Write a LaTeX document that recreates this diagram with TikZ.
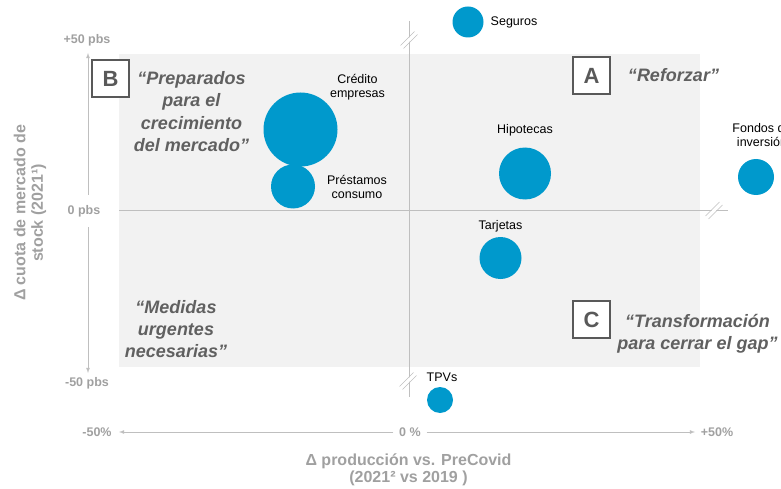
\documentclass[tikz,border=0pt]{standalone}
\usepackage{fontspec}
\setmainfont{Liberation Sans}
\usepackage{tikz}
\usetikzlibrary{positioning}
\definecolor{bubble}{HTML}{0099CC}
\definecolor{panel}{HTML}{F2F2F2}
\definecolor{axisgray}{HTML}{BFBFBF}
\definecolor{tickgray}{HTML}{A0A0A0}
\definecolor{quotegray}{HTML}{606060}
\definecolor{boxgray}{HTML}{595959}

\begin{document}
\begin{tikzpicture}[x=1pt,y=-1pt,on grid,>=latex,
    bub/.style={circle,fill=bubble,inner sep=0pt,minimum size=#1},
    lbl/.style={font=\fontsize{12.5}{14}\selectfont,align=center,inner sep=0pt},
    quote/.style={font=\fontsize{18}{22.3}\selectfont\bfseries\itshape,text=quotegray,align=center,inner sep=0pt},
    letter/.style={draw=boxgray,line width=1.6pt,fill=white,minimum size=37pt,inner sep=0pt,font=\fontsize{22}{22}\selectfont\bfseries,text=boxgray},
    tick/.style={font=\fontsize{12.5}{14}\selectfont\bfseries,text=tickgray,inner sep=0pt},
    title/.style={font=\fontsize{16}{17.5}\selectfont\bfseries,text=tickgray,align=center,inner sep=0pt},
    axis/.style={draw=axisgray,line width=0.8pt}]
    \useasboundingbox (0,0) rectangle (781,489);
    \fill[panel] (119,54) rectangle (700,367);

    % centre lines
    \coordinate (vt) at (409,21);
    \coordinate (vb) at (409,397);
    \coordinate (hl) at (119,210.5);
    \coordinate (hr) at (728,210.5);
    \draw[axis] (vt) -- (vb);
    \draw[axis] (hl) -- (hr);
    \foreach \bx/\by in {409/40, 408/381, 714/210.5} {
        \draw[white,line width=3pt] ({\bx-7},{\by+7}) -- ({\bx+7},{\by-7});
        \draw[axisgray,line width=0.6pt] ({\bx-8.5},{\by+5.5}) -- ({\bx+5.5},{\by-8.5})
            ({\bx-5.5},{\by+8.5}) -- ({\bx+8.5},{\by-5.5});
    }

    % axes
    \node[tick] (p50) at (87,40) {+50 pbs};
    \node[tick,minimum height=32pt] (zero) at (84,211) {0 pbs};
    \node[tick] (m50) at (87,383) {-50 pbs};
    \coordinate (ytop) at (88,53);
    \coordinate (ybot) at (88,373);
    \draw[axis,->] (zero.north -| ytop) -- (ytop);
    \draw[axis,->] (zero.south -| ybot) -- (ybot);
    \node[tick] (xl) at (97,432) {-50\%};
    \node[tick,minimum width=33pt] (x0) at (410,432) {0 \%};
    \node[tick] (xr) at (717,432) {+50\%};
    \coordinate (xlt) at (119,432);
    \coordinate (xrt) at (695,432);
    \draw[axis,->] (x0.west) -- (xlt);
    \draw[axis,->] (x0.east) -- (xrt);
    \node[title] (xt) at (408.5,470) {Δ producción vs. PreCovid\\(2021² vs 2019 )};
    \node[title,rotate=90] (yt) at (30,213) {Δ cuota de mercado de\\stock (2021¹)};

    % quadrants
    \node[letter] (B) at (110.5,78.5) {B};
    \node[quote,below right=33pt and 81pt of B] {“Preparados\\para el\\crecimiento\\del mercado”};
    \node[letter] (A) at (591.5,75.5) {A};
    \node[quote,right=82pt of A] {“Reforzar”};
    \node[letter] (C) at (591.5,319.5) {C};
    \node[quote,below right=14.5pt and 106pt of C] {“Transformación\\para cerrar el gap”};
    \node[quote] (med) at (176,329) {“Medidas\\urgentes\\necesarias”};

    % bubbles
    \node[bub=31pt] (seg) at (468,22) {};
    \node[lbl,right=46pt of seg] {Seguros};
    \node[bub=74pt] (cred) at (300.5,129.5) {};
    \node[lbl,above right=42pt and 57pt of cred] {Crédito\\empresas};
    \node[bub=44pt] (pres) at (293,186.5) {};
    \node[lbl,right=64pt of pres] {Préstamos\\consumo};
    \node[bub=52pt] (hip) at (525,173.5) {};
    \node[lbl,above=43.5pt of hip] {Hipotecas};
    \node[bub=42pt] (tar) at (500.5,258) {};
    \node[lbl,above=32pt of tar] {Tarjetas};
    \node[bub=36pt] (fon) at (756,177) {};
    \node[lbl,above right=42pt and 6pt of fon] {Fondos de\\inversión};
    \node[bub=26pt] (tpv) at (440,400) {};
    \node[lbl,above right=23pt and 2pt of tpv] {TPVs};
\end{tikzpicture}
\end{document}
